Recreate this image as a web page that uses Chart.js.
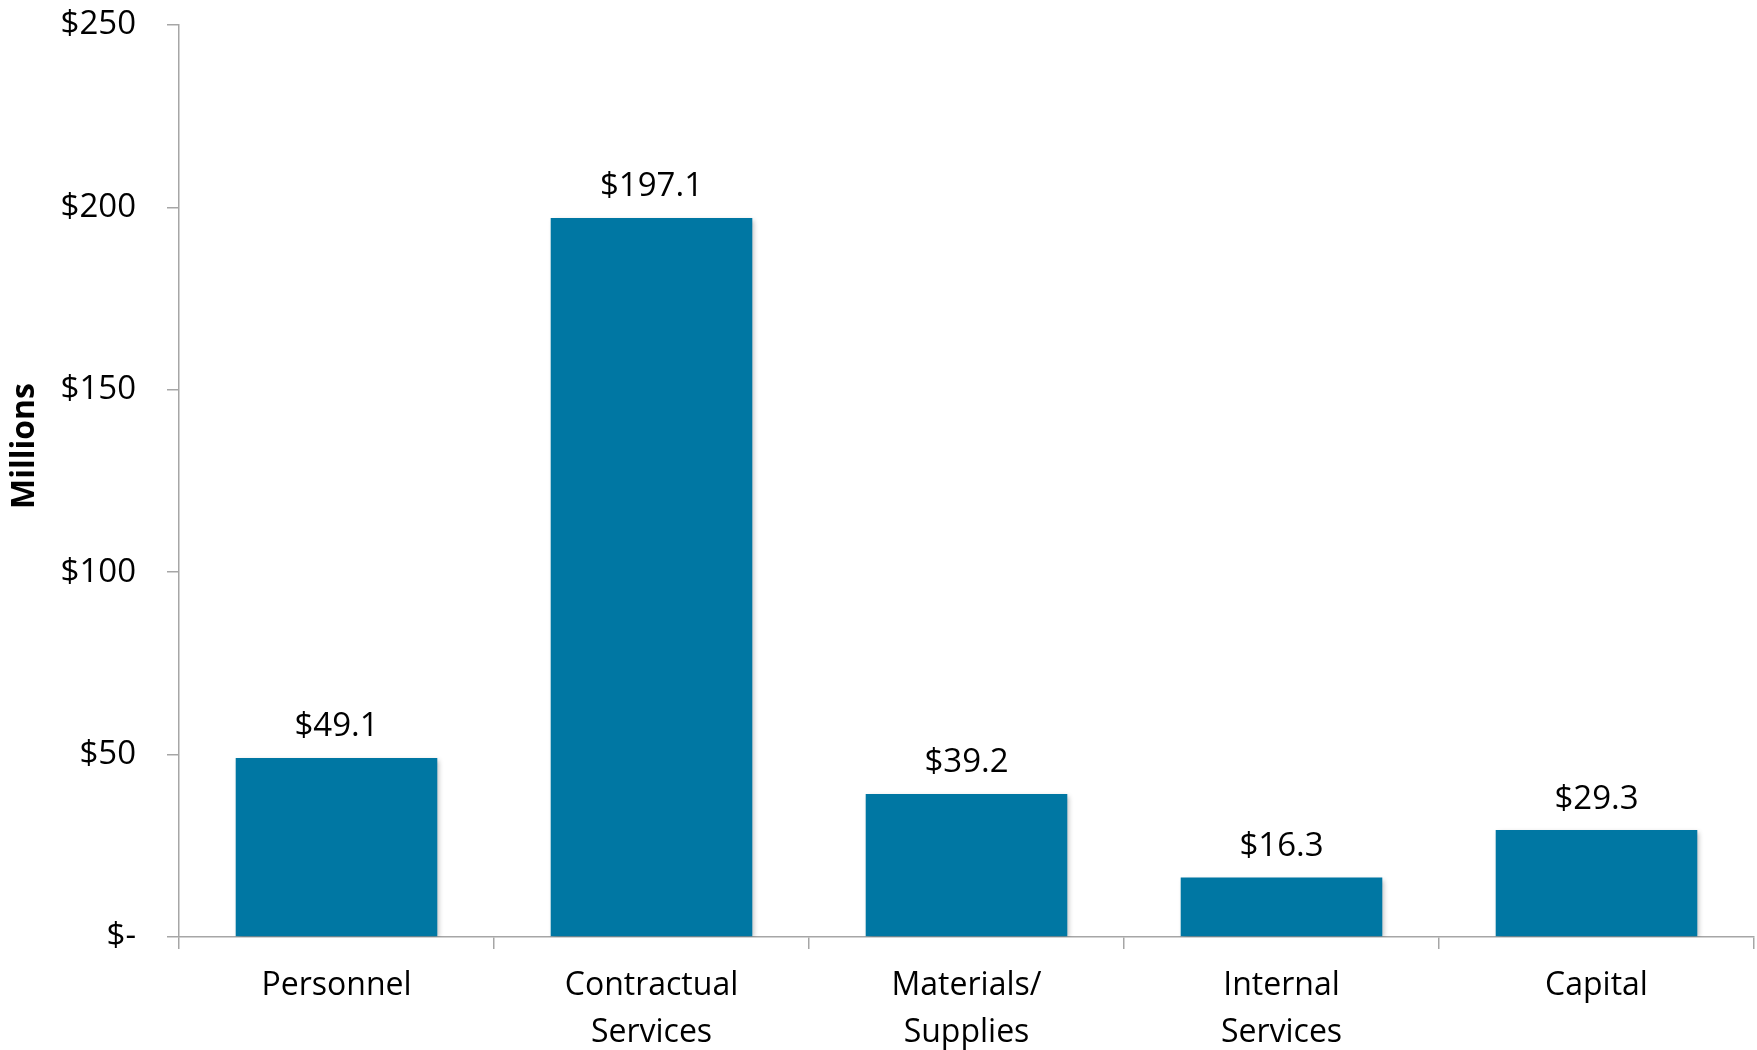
<!DOCTYPE html>
<html lang="en">

<head>
    <meta charset="UTF-8">
    <title>Expenditures by Category</title>
    <script src="https://cdn.jsdelivr.net/npm/chart.js"></script>
    <style>
        body { margin: 0; background: #ffffff; }
        .chart-container { width: 1757px; height: 1050px; }
    </style>
</head>

<body>
    <div class="chart-container">
        <canvas id="spendChart" width="1757" height="1050"></canvas>
    </div>

    <script>
        const categories = [
            ["Personnel"],
            ["Contractual", "Services"],
            ["Materials/", "Supplies"],
            ["Internal", "Services"],
            ["Capital"]
        ];
        const amounts = [49.1, 197.1, 39.2, 16.3, 29.3];
        const yTickValues = [0, 50, 100, 150, 200, 250];

        const barColor = '#0077A3';
        const axisColor = '#A6A6A6';
        const fontFamily = "'Open Sans', 'Noto Sans', sans-serif";

        function money(v) {
            return v === 0 ? '$-' : '$' + v;
        }

        // soft shadow under the bars, like the original
        const barShadow = {
            id: 'barShadow',
            beforeDatasetDraw(chart) {
                const ctx = chart.ctx;
                ctx.save();
                ctx.shadowColor = 'rgba(0,0,0,0.28)';
                ctx.shadowBlur = 5;
                ctx.shadowOffsetX = 2;
                ctx.shadowOffsetY = 2;
            },
            afterDatasetDraw(chart) {
                chart.ctx.restore();
            }
        };

        const valueLabels = {
            id: 'valueLabels',
            afterDatasetsDraw(chart) {
                const ctx = chart.ctx;
                const meta = chart.getDatasetMeta(0);
                ctx.save();
                ctx.font = '33px ' + fontFamily;
                ctx.fillStyle = '#000';
                ctx.textAlign = 'center';
                ctx.textBaseline = 'middle';
                meta.data.forEach((bar, i) => {
                    ctx.fillText('$' + amounts[i].toFixed(1), bar.x, bar.y - 31);
                });
                ctx.restore();
            }
        };

        const axisTitle = {
            id: 'axisTitle',
            afterDraw(chart) {
                const ctx = chart.ctx;
                ctx.save();
                ctx.translate(25, 446);
                ctx.rotate(-Math.PI / 2);
                ctx.font = 'bold 32px ' + fontFamily;
                ctx.fillStyle = '#000';
                ctx.textAlign = 'center';
                ctx.textBaseline = 'middle';
                ctx.fillText('Millions', 0, 0);
                ctx.restore();
            }
        };

        const ctx = document.getElementById('spendChart').getContext('2d');
        const myChart = new Chart(ctx, {
            type: 'bar',
            data: {
                labels: categories,
                datasets: [{
                    data: amounts,
                    backgroundColor: barColor,
                    borderWidth: 0,
                    barPercentage: 0.64,
                    categoryPercentage: 1.0
                }]
            },
            options: {
                responsive: false,
                animation: false,
                layout: { padding: { top: 25, right: 3, left: 0, bottom: 0 } },
                plugins: {
                    legend: { display: false },
                    tooltip: { enabled: false }
                },
                scales: {
                    x: {
                        grid: {
                            display: true,
                            drawOnChartArea: false,
                            drawTicks: true,
                            tickLength: 12,
                            color: axisColor,
                            lineWidth: 1.5
                        },
                        border: { color: axisColor, width: 1.5 },
                        ticks: {
                            color: '#000',
                            padding: 13,
                            maxRotation: 0,
                            autoSkip: false,
                            font: { family: fontFamily, size: 32, lineHeight: 1.47 }
                        },
                        afterFit(scale) {
                            scale.height = 113;
                            scale.paddingLeft = 0;
                            scale.paddingRight = 0;
                        }
                    },
                    y: {
                        min: 0,
                        max: 250,
                        afterBuildTicks(scale) {
                            scale.ticks = yTickValues.map(v => ({ value: v }));
                        },
                        grid: {
                            display: true,
                            drawOnChartArea: false,
                            drawTicks: true,
                            tickLength: 12,
                            color: axisColor,
                            lineWidth: 1.5
                        },
                        border: { color: axisColor, width: 1.5 },
                        ticks: {
                            color: '#000',
                            padding: 31,
                            callback: (v) => money(v),
                            font: { family: fontFamily, size: 33 }
                        },
                        afterFit(scale) {
                            scale.width = 179;
                            scale.paddingTop = 0;
                            scale.paddingBottom = 0;
                        }
                    }
                }
            },
            plugins: [barShadow, valueLabels, axisTitle]
        });
    </script>
</body>

</html>
